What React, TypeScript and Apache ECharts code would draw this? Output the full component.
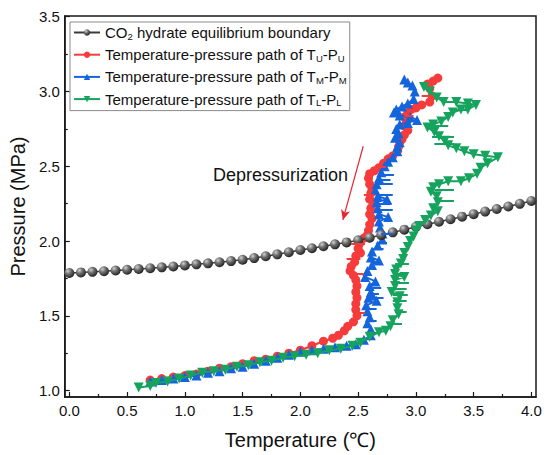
import React, { useEffect, useRef } from "react";
import * as echarts from "echarts";

// ---- axis ticks ----
const X_MAJOR = [0.0, 0.5, 1.0, 1.5, 2.0, 2.5, 3.0, 3.5, 4.0];
const X_MINOR = [0.25, 0.75, 1.25, 1.75, 2.25, 2.75, 3.25, 3.75];
const Y_MAJOR = [1.0, 1.5, 2.0, 2.5, 3.0, 3.5];
const Y_MINOR = [1.25, 1.75, 2.25, 2.75, 3.25];

// ---- CO2 hydrate equilibrium boundary ----
const EQ_T = [
  0.0, 0.1, 0.2, 0.3, 0.4, 0.5, 0.6, 0.7, 0.8, 0.9, 1.0, 1.1, 1.2, 1.3, 1.4, 1.5, 1.6, 1.7, 1.8, 1.9, 2.0,
  2.1, 2.2, 2.3, 2.4, 2.5, 2.6, 2.7, 2.8, 2.9, 3.0, 3.1, 3.2, 3.3, 3.4, 3.5, 3.6, 3.7, 3.8, 3.9, 4.0,
];
const EQ_P = [
  1.786, 1.79, 1.794, 1.798, 1.803, 1.808, 1.813, 1.818, 1.824, 1.83, 1.837, 1.844, 1.851, 1.858, 1.866,
  1.875, 1.886, 1.898, 1.911, 1.925, 1.94, 1.952, 1.965, 1.978, 1.991, 2.005, 2.022, 2.04, 2.058, 2.076,
  2.095, 2.112, 2.129, 2.146, 2.163, 2.18, 2.197, 2.214, 2.231, 2.249, 2.268,
];

// ---- T_U - P_U path ----
const U_T = [
  3.19, 3.15, 3.1, 3.12, 3.14, 3.12, 3.05, 3.0, 2.96, 2.93, 2.9, 2.92, 2.9, 2.93, 2.9, 2.88, 2.86, 2.85, 2.84,
  2.8, 2.76, 2.72, 2.68, 2.64, 2.6, 2.59, 2.6, 2.62, 2.61, 2.6, 2.63, 2.61, 2.6, 2.62, 2.6, 2.59, 2.58, 2.55,
  2.52, 2.51, 2.5, 2.52, 2.48, 2.47, 2.44, 2.43, 2.46, 2.48, 2.49, 2.48, 2.49, 2.48, 2.48, 2.49, 2.46, 2.41,
  2.38, 2.33, 2.28, 2.2, 2.1, 2.0, 1.9, 1.8, 1.7, 1.6, 1.5, 1.4, 1.3, 1.2, 1.1, 1.0, 0.9, 0.8, 0.7,
];
const U_P = [
  3.09, 3.07, 3.05, 3.02, 2.97, 2.93, 2.91, 2.89, 2.88, 2.86, 2.83, 2.8, 2.77, 2.74, 2.71, 2.68, 2.66, 2.63,
  2.6, 2.57, 2.55, 2.52, 2.49, 2.47, 2.45, 2.42, 2.38, 2.35, 2.32, 2.28, 2.25, 2.22, 2.18, 2.15, 2.11, 2.07,
  2.04, 2.02, 2.0, 1.98, 1.95, 1.92, 1.9, 1.86, 1.83, 1.8, 1.77, 1.74, 1.7, 1.66, 1.62, 1.58, 1.54, 1.5,
  1.46, 1.43, 1.4, 1.37, 1.35, 1.33, 1.3, 1.27, 1.25, 1.23, 1.21, 1.2, 1.18, 1.16, 1.15, 1.13, 1.11, 1.1,
  1.09, 1.08, 1.07,
];
// horizontal excursions without markers (pressure, from T, to T)
const U_SPIKE_P = [2.97, 2.84, 2.5, 2.31, 1.98, 1.88, 1.78, 1.52];
const U_SPIKE_T0 = [3.05, 2.9, 2.66, 2.55, 2.44, 2.4, 2.43, 2.48];
const U_SPIKE_T1 = [3.14, 2.98, 2.74, 2.64, 2.56, 2.52, 2.55, 2.56];

// ---- T_M - P_M path ----
const M_T = [
  2.9, 2.93, 2.97, 2.99, 2.98, 2.93, 2.88, 2.83, 2.81, 2.86, 2.95, 3.01, 2.93, 2.86, 2.83, 2.85, 2.82, 2.86,
  2.84, 2.84, 2.8, 2.76, 2.73, 2.7, 2.68, 2.66, 2.65, 2.67, 2.75, 2.66, 2.67, 2.68, 2.76, 2.68, 2.69, 2.71,
  2.71, 2.67, 2.62, 2.61, 2.68, 2.62, 2.58, 2.56, 2.65, 2.6, 2.61, 2.59, 2.66, 2.57, 2.58, 2.6, 2.58, 2.61,
  2.61, 2.55, 2.48, 2.4, 2.3, 2.2, 2.1, 2.0, 1.9, 1.8, 1.7, 1.6, 1.5, 1.4, 1.3, 1.2, 1.1, 1.0, 0.9, 0.8, 0.7,
];
const M_P = [
  3.08, 3.06, 3.04, 3.0, 2.95, 2.92, 2.9, 2.88, 2.86, 2.84, 2.83, 2.81, 2.79, 2.78, 2.75, 2.72, 2.69, 2.66,
  2.63, 2.6, 2.56, 2.53, 2.5, 2.46, 2.42, 2.38, 2.34, 2.3, 2.28, 2.26, 2.22, 2.18, 2.16, 2.13, 2.09, 2.05,
  2.01, 1.97, 1.93, 1.89, 1.87, 1.84, 1.8, 1.76, 1.73, 1.7, 1.66, 1.62, 1.6, 1.57, 1.53, 1.49, 1.45, 1.41,
  1.37, 1.34, 1.31, 1.3, 1.29, 1.28, 1.27, 1.26, 1.24, 1.22, 1.2, 1.18, 1.16, 1.15, 1.13, 1.12, 1.1, 1.09,
  1.08, 1.07, 1.06,
];
const M_SPIKE_P = [2.44, 2.41, 2.38, 2.31, 2.25, 2.21, 2.05, 1.99, 1.95, 1.86, 1.69, 1.65, 1.62, 1.55, 1.47, 1.39];
const M_SPIKE_T0 = [2.68, 2.67, 2.66, 2.66, 2.66, 2.67, 2.7, 2.66, 2.63, 2.61, 2.59, 2.6, 2.6, 2.57, 2.58, 2.6];
const M_SPIKE_T1 = [2.81, 2.78, 2.8, 2.8, 2.79, 2.8, 2.8, 2.75, 2.72, 2.7, 2.7, 2.68, 2.72, 2.66, 2.66, 2.66];

// ---- T_L - P_L path ----
const L_T = [
  3.07, 3.12, 3.18, 3.24, 3.35, 3.45, 3.52, 3.45, 3.39, 3.32, 3.28, 3.22, 3.15, 3.1, 3.16, 3.2, 3.25, 3.28,
  3.35, 3.42, 3.5, 3.6, 3.71, 3.62, 3.56, 3.53, 3.46, 3.39, 3.28, 3.2, 3.15, 3.13, 3.18, 3.19, 3.15, 3.19,
  3.13, 3.08, 3.03, 3.0, 2.98, 2.95, 2.93, 2.9, 2.89, 2.87, 2.83, 2.82, 2.9, 2.82, 2.82, 2.79, 2.86, 2.84,
  2.84, 2.85, 2.8, 2.78, 2.74, 2.68, 2.6, 2.52, 2.45, 2.35, 2.25, 2.15, 2.05, 1.95, 1.85, 1.75, 1.65, 1.55,
  1.45, 1.35, 1.25, 1.15, 1.05, 0.95, 0.85, 0.75, 0.7, 0.6,
];
const L_P = [
  3.03, 3.0, 2.96, 2.93, 2.93, 2.92, 2.91, 2.88, 2.88, 2.86, 2.83, 2.8, 2.78, 2.76, 2.73, 2.7, 2.67, 2.64,
  2.62, 2.6, 2.58, 2.57, 2.56, 2.52, 2.49, 2.45, 2.42, 2.4, 2.4, 2.38, 2.36, 2.33, 2.3, 2.26, 2.22, 2.2,
  2.17, 2.14, 2.1, 2.07, 2.03, 2.0, 1.96, 1.92, 1.88, 1.85, 1.81, 1.78, 1.76, 1.74, 1.7, 1.66, 1.63, 1.59,
  1.55, 1.51, 1.47, 1.43, 1.4, 1.39, 1.36, 1.32, 1.3, 1.28, 1.27, 1.25, 1.24, 1.23, 1.22, 1.2, 1.19, 1.17,
  1.16, 1.14, 1.13, 1.12, 1.1, 1.08, 1.06, 1.05, 1.03, 1.02,
];
const L_SPIKE_P = [2.88, 2.77, 2.7, 2.65, 2.34, 2.27, 1.85, 1.78, 1.72, 1.68, 1.64, 1.6, 1.53, 1.45];
const L_SPIKE_T0 = [3.3, 3.08, 3.14, 3.16, 3.16, 3.17, 2.82, 2.8, 2.8, 2.79, 2.8, 2.8, 2.82, 2.78];
const L_SPIKE_T1 = [3.45, 3.28, 3.33, 3.33, 3.33, 3.33, 2.94, 2.93, 2.94, 2.92, 2.93, 2.92, 2.92, 2.88];

// ---- annotation ----
const ARROW_FROM = [2.544, 2.634];
const ARROW_TO = [2.368, 2.141];
const ANNOT_TEXT = "Depressurization";

const zip = (a: number[], b: number[]) => a.map((v, i) => [v, b[i]]);
const spikes = (p: number[], t0: number[], t1: number[]) =>
  p.map((v, i) => [{ coord: [t0[i], v] }, { coord: [t1[i], v] }]);

const FONT = "'Liberation Sans', Arial, sans-serif";
const RED = "#F53B3B";
const BLUE = "#1464DC";
const GREEN = "#15A35D";
const AXIS = "#1a1a1a";

const spikeMark = (color: string, data: any[]) => ({
  silent: true,
  symbol: ["none", "none"],
  label: { show: false },
  emphasis: { disabled: true },
  lineStyle: { color, width: 2, type: "solid" },
  data,
});

export default function App() {
  const ref = useRef<HTMLDivElement>(null);
  useEffect(() => {
    if (!ref.current) return;
    const chart = echarts.init(ref.current, undefined, { renderer: "svg" });
    const sphere = new echarts.graphic.RadialGradient(0.35, 0.3, 0.7, [
      { offset: 0, color: "#d0d0d0" },
      { offset: 0.45, color: "#6e6e6e" },
      { offset: 1, color: "#262626" },
    ]);
    const grid = { left: 58, right: 14, top: 16, bottom: 52 };
    const baseX = { type: "value", min: -0.04, max: 4.04, splitLine: { show: false } };
    const baseY = { type: "value", min: 0.957, max: 3.505, splitLine: { show: false } };
    const labelStyle = { fontFamily: FONT, fontSize: 15, color: "#111" };
    const option: any = {
      animation: false,
      backgroundColor: "#fff",
      grid: { ...grid, show: true, borderColor: AXIS, borderWidth: 1.5, backgroundColor: "transparent" },
      xAxis: [
        {
          ...baseX,
          position: "bottom",
          name: "Temperature (℃)",
          nameLocation: "middle",
          nameGap: 33,
          nameTextStyle: { fontFamily: FONT, fontSize: 20, color: "#111" },
          axisLine: { show: true, onZero: false, lineStyle: { color: AXIS, width: 1.5 } },
          axisTick: { show: true, inside: true, length: 5, customValues: X_MAJOR, lineStyle: { color: AXIS, width: 1.2 } },
          axisLabel: { ...labelStyle, margin: 6, customValues: X_MAJOR, formatter: (v: number) => v.toFixed(1) },
        },
        {
          ...baseX,
          position: "bottom",
          axisLine: { show: false, onZero: false },
          axisTick: { show: true, inside: true, length: 3, customValues: X_MINOR, lineStyle: { color: AXIS, width: 1.2 } },
          axisLabel: { show: false },
        },
      ],
      yAxis: [
        {
          ...baseY,
          position: "left",
          name: "Pressure (MPa)",
          nameLocation: "middle",
          nameGap: 34,
          nameTextStyle: { fontFamily: FONT, fontSize: 20, color: "#111" },
          axisLine: { show: true, onZero: false, lineStyle: { color: AXIS, width: 1.5 } },
          axisTick: { show: true, inside: true, length: 5, customValues: Y_MAJOR, lineStyle: { color: AXIS, width: 1.2 } },
          axisLabel: { ...labelStyle, margin: 5, customValues: Y_MAJOR, formatter: (v: number) => v.toFixed(1) },
        },
        {
          ...baseY,
          position: "left",
          axisLine: { show: false, onZero: false },
          axisTick: { show: true, inside: true, length: 3, customValues: Y_MINOR, lineStyle: { color: AXIS, width: 1.2 } },
          axisLabel: { show: false },
        },
      ],
      legend: {
        orient: "vertical",
        left: 70,
        top: 22,
        padding: [3, 3, 3, 3],
        itemGap: 6.2,
        itemWidth: 26,
        itemHeight: 8,
        borderColor: "#8a8a8a",
        borderWidth: 1,
        backgroundColor: "#fff",
        data: ["eq", "U", "M", "L"],
        formatter: (name: string) => {
          if (name === "eq") return "{n|CO}{s|2}{n| hydrate equilibrium boundary}";
          return `{n|Temperature-pressure path of T}{s|${name}}{n|-P}{s|${name}}`;
        },
        textStyle: {
          fontFamily: FONT,
          fontSize: 15,
          color: "#111",
          rich: {
            n: { fontFamily: FONT, fontSize: 15, color: "#111", lineHeight: 17, verticalAlign: "middle" },
            s: { fontFamily: FONT, fontSize: 9.5, color: "#111", lineHeight: 9, verticalAlign: "bottom" },
          },
        },
      },
      graphic: [
        {
          type: "text",
          left: 213,
          top: 166,
          style: { text: ANNOT_TEXT, fontFamily: FONT, fontSize: 18, fill: "#111" },
        },
      ],
      series: [
        {
          name: "eq",
          type: "line",
          data: zip(EQ_T, EQ_P),
          symbol: "circle",
          symbolSize: 10,
          itemStyle: { color: sphere, borderWidth: 0 },
          lineStyle: { color: "#3a3a3a", width: 1.5 },
          z: 4,
          markLine: {
            silent: true,
            symbol: ["none", "arrow"],
            symbolSize: [7, 10],
            lineStyle: { color: "#E8262B", width: 1.2, type: "solid" },
            label: { show: false },
            data: [[{ coord: ARROW_FROM }, { coord: ARROW_TO }]],
          },
        },
        {
          name: "U",
          type: "line",
          data: zip(U_T, U_P),
          symbol: "circle",
          symbolSize: 9,
          itemStyle: { color: RED },
          lineStyle: { color: RED, width: 2 },
          markLine: spikeMark(RED, spikes(U_SPIKE_P, U_SPIKE_T0, U_SPIKE_T1)),
          z: 2,
        },
        {
          name: "M",
          type: "line",
          data: zip(M_T, M_P),
          symbol: "triangle",
          symbolSize: 10,
          itemStyle: { color: BLUE },
          lineStyle: { color: BLUE, width: 2 },
          markLine: spikeMark(BLUE, spikes(M_SPIKE_P, M_SPIKE_T0, M_SPIKE_T1)),
          z: 3,
        },
        {
          name: "L",
          type: "line",
          data: zip(L_T, L_P),
          symbol: "triangle",
          symbolRotate: 180,
          symbolSize: 10,
          itemStyle: { color: GREEN },
          lineStyle: { color: GREEN, width: 2 },
          markLine: spikeMark(GREEN, spikes(L_SPIKE_P, L_SPIKE_T0, L_SPIKE_T1)),
          z: 5,
        },
      ],
    };
    chart.setOption(option);
    return () => chart.dispose();
  }, []);
  return (
    <div
      ref={ref}
      style={{ position: "absolute", left: 0, top: 0, width: 550, height: 455, background: "#fff" }}
    />
  );
}
